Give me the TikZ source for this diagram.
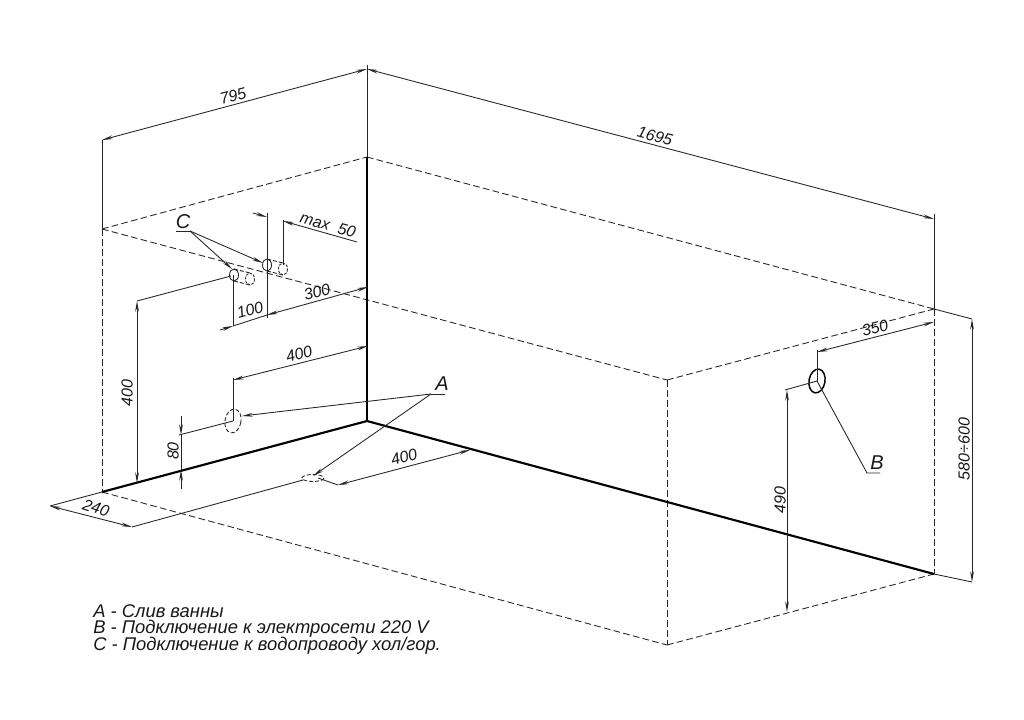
\documentclass[tikz,border=0pt]{standalone}
\usepackage{fontspec}
\setmainfont{Liberation Sans}
\usetikzlibrary{arrows.meta}
\tikzset{
    edge/.style={line width=1.6pt, black},
    hidden/.style={line width=0.65pt, black!85, dash pattern=on 5pt off 2.5pt},
    thinline/.style={line width=0.65pt, black!85},
    dim/.style={thinline, {Stealth[length=8pt,width=2.8pt]}-{Stealth[length=8pt,width=2.8pt]}},
    dimend/.style={thinline, -{Stealth[length=8pt,width=2.8pt]}},
    lab/.style={font=\itshape\fontsize{12}{13}\selectfont, inner sep=0pt, black!90},
    letter/.style={font=\itshape\fontsize{15}{16}\selectfont, inner sep=0pt, black!90},
    legend/.style={font=\itshape\fontsize{13.8}{14}\selectfont, inner sep=0pt, anchor=base west, black!90}
}
\begin{document}
\begin{tikzpicture}[x=0.75pt, y=-0.75pt]
    \useasboundingbox (0,0) rectangle (1024,720);
    \fill [white] (0,0) rectangle (1024,720);

    % corners of the bath
    \coordinate (topfl) at (102,229);
    \coordinate (topbl) at (367,157);
    \coordinate (topbr) at (934,309);
    \coordinate (topfr) at (667,380);
    \coordinate (botfl) at (102,492);
    \coordinate (botbl) at (367,421);
    \coordinate (botbr) at (934,574);
    \coordinate (botfr) at (667,645);

    % hidden edges
    \foreach \a/\b in {topfl/topbl, topbl/topbr, topfl/topfr, topfr/topbr, topfl/botfl, topbr/botbr, topfr/botfr, botfl/botfr, botfr/botbr} {
        \draw [hidden] (\a) -- (\b);
    }

    % solid edges
    \draw [edge] (topbl) -- (botbl);
    \draw [edge] (botfl) -- (botbl);
    \draw [edge] (botbl) -- (botbr);

    % overall sizes
    \coordinate (d795a) at (102,140);
    \coordinate (d795b) at (367,69);
    \coordinate (d1695b) at (934,219);
    \draw [thinline] (d795a) -- (topfl);
    \draw [thinline] (367,65) -- (topbl);
    \draw [thinline] (934,214) -- (topbr);
    \draw [dim] (d795a) -- (d795b);
    \draw [dim] (d795b) -- (d1695b);
    \node [lab, rotate=15] (lab795) at (233,96) {795};
    \node [lab, rotate=-15] (lab1695) at (655,136) {1695};

    % height on the right
    \coordinate (h580a) at (972,319);
    \coordinate (h580b) at (972,582);
    \draw [thinline] (topbr) -- (h580a);
    \draw [thinline] (botbr) -- (h580b);
    \draw [dim] (h580a) -- (h580b);
    \node [lab, rotate=90] (lab580) at (964,449) {580÷600};

    % power connection
    \draw [line width=1.1pt, rotate around={-10:(817,381)}] (817,381) ellipse (8 and 12);
    \coordinate (bcen) at (817,381);
    \coordinate (d350a) at (817,352);
    \coordinate (d350b) at (934,322);
    \coordinate (d490a) at (787,390);
    \coordinate (d490b) at (787,612);
    \coordinate (bleader) at (867,473);
    \draw [thinline] (bcen) -- (817,350);
    \draw [thinline] (bcen) -- (785,390);
    \draw [dim] (d350a) -- (d350b);
    \draw [dim] (d490a) -- (d490b);
    \draw [thinline] (bcen) -- (bleader) -- (880,473);
    \node [lab, rotate=15] (lab350) at (875,328) {350};
    \node [lab, rotate=90] (lab490) at (780,500) {490};
    \node [letter] (labB) at (877,463) {B};

    % drain in the wall
    \draw [hidden, dash pattern=on 3pt off 1.5pt, rotate around={-10:(233,421)}] (233,421) ellipse (8 and 12);
    \coordinate (wcen) at (233,421);
    \coordinate (d400a) at (233,380);
    \coordinate (d400b) at (368,346);
    \coordinate (d80a) at (181,435);
    \coordinate (d80b) at (181,470);
    \draw [thinline] (wcen) -- (233,378);
    \draw [thinline] (wcen) -- (179,435);
    \draw [dim] (d400a) -- (d400b);
    \draw [thinline] (d80a) -- (d80b);
    \draw [dimend] (181,416) -- (d80a);
    \draw [dimend] (181,489) -- (d80b);
    \node [lab, rotate=15] (lab400w) at (299,354) {400};
    \node [lab, rotate=90] (lab80) at (173,451) {80};

    % drain in the floor
    \draw [hidden, dash pattern=on 3pt off 1.5pt] (313,478) ellipse (11 and 3.5);
    \coordinate (fcen) at (318,478);
    \coordinate (d400c) at (338,485);
    \coordinate (d400d) at (470,450);
    \coordinate (d240a) at (50,506);
    \coordinate (d240b) at (132,527);
    \draw [thinline] (fcen) -- (d400c);
    \draw [thinline] (d240a) -- (botfl);
    \draw [thinline] (d240b) -- (303,480);
    \draw [dim] (d400c) -- (d400d);
    \draw [dim] (d240a) -- (d240b);
    \node [lab, rotate=15] (lab400f) at (404,457) {400};
    \node [lab, rotate=-18] (lab240) at (96,508) {240};

    % leader A
    \coordinate (aleader) at (431,394);
    \draw [thinline] (aleader) -- (445,394);
    \draw [dimend] (aleader) -- (242,416);
    \draw [dimend] (aleader) -- (313,476);
    \node [letter] (labA) at (442,384) {A};

    % water pipes
    \foreach \x/\y in {267/265, 234/275} {
        \draw [thinline] (\x,\y) ellipse (4.5 and 6);
        \draw [hidden, dash pattern=on 3pt off 1.5pt] (\x,\y-6) -- (\x+16,\y-2);
        \draw [hidden, dash pattern=on 3pt off 1.5pt] (\x,\y+6) -- (\x+16,\y+10);
        \draw [hidden, dash pattern=on 2pt off 1pt] (\x+16,\y+4) ellipse (4.5 and 6);
    }
    \coordinate (cleader) at (190,231);
    \draw [thinline] (176,231) -- (cleader);
    \draw [dimend] (cleader) -- (232,269);
    \draw [dimend] (cleader) -- (263,263);
    \node [letter] (labC) at (183,222) {C};

    % pipe sizes
    \coordinate (d50a) at (267,217);
    \coordinate (d50b) at (283,221);
    \draw [dimend] (253,213) -- (d50a);
    \draw [dimend] (357,242) -- (d50b);
    \draw [thinline] (267,213) -- (267,318);
    \draw [thinline] (283,220) -- (283,265);
    \node [lab, rotate=-15] (labmax) at (328,225) {max\ \ 50};

    \coordinate (d100a) at (233,326);
    \coordinate (d100b) at (267,315);
    \coordinate (d300b) at (368,287);
    \draw [thinline] (233,275) -- (d100a);
    \draw [dimend] (220,330) -- (d100a);
    \draw [thinline] (d100a) -- (d100b);
    \draw [dim] (d100b) -- (d300b);
    \node [lab, rotate=15] (lab100) at (250,310) {100};
    \node [lab, rotate=15] (lab300) at (317,292) {300};

    \coordinate (d400e) at (137,301);
    \coordinate (d400g) at (137,483);
    \draw [thinline] (231,276) -- (d400e);
    \draw [dim] (d400e) -- (d400g);
    \node [lab, rotate=90] (lab400h) at (127,393) {400};

    % legend
    \node [legend] (legA) at (93,617) {A - Слив ванны};
    \node [legend] (legB) at (93,633) {B - Подключение к электросети 220 V};
    \node [legend] (legC) at (93,650) {C - Подключение к водопроводу хол/гор.};
\end{tikzpicture}
\end{document}
